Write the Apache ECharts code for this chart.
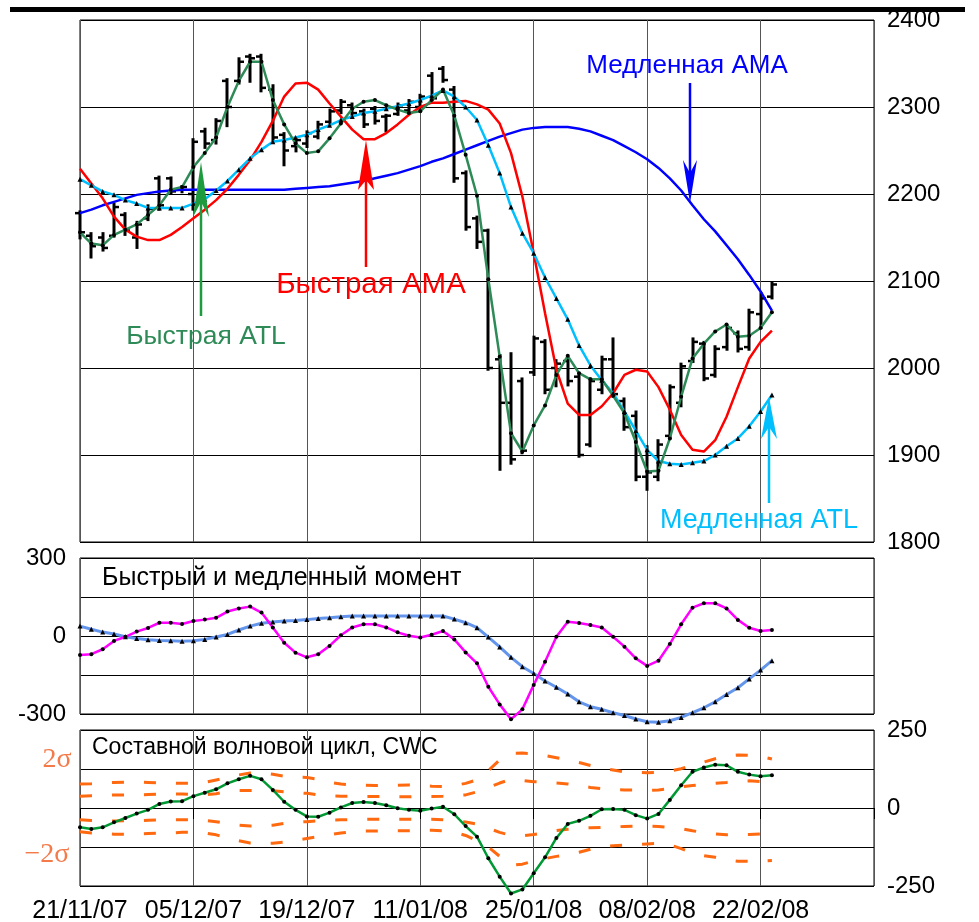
<!DOCTYPE html>
<html><head><meta charset="utf-8">
<script src="https://cdn.jsdelivr.net/npm/echarts@6/dist/echarts.min.js"></script>
<style>html,body{margin:0;padding:0;background:#fff}#c{width:979px;height:922px}</style>
</head><body><div id="c"></div>
<script>
const dateLabels = ['21/11/07','05/12/07','19/12/07','11/01/08','25/01/08','08/02/08','22/02/08'];

const barOpen = [2178,2152,2150,2152,2176,2150,2172,2218,2218,2205,2200,2272,2262,2330,2330,2358,2358,2320,2268,2255,2258,2266,2283,2296,2302,2295,2298,2289,2292,2296,2300,2336,2344,2320,2224,2172,2158,2010,1960,1985,1995,2030,2000,2008,1990,1912,1975,2010,1962,1945,1875,1875,1922,1960,2008,2028,1992,2024,2040,2024,2062,2082];
const barHigh = [2180,2155,2155,2189,2178,2168,2187,2220,2219,2209,2263,2275,2286,2332,2356,2360,2360,2325,2270,2264,2272,2283,2297,2308,2304,2297,2300,2291,2304,2308,2314,2339,2346,2323,2226,2174,2159,2015,2017,1988,2036,2032,2009,2011,1994,1988,2013,2034,1965,1950,1910,1917,1980,2005,2034,2030,2025,2049,2042,2067,2086,2098];
const barLow = [2149,2127,2135,2151,2153,2138,2170,2182,2200,2202,2182,2253,2258,2278,2327,2329,2318,2260,2233,2249,2254,2264,2281,2293,2291,2277,2281,2272,2291,2295,2295,2308,2329,2214,2159,2138,1998,1883,1890,1902,1992,1971,1979,1980,1898,1910,1971,1967,1929,1871,1860,1871,1919,1956,2007,1986,1990,2021,2019,2021,2046,2080];
const barClose = [2156,2140,2138,2185,2158,2165,2183,2187,2203,2208,2260,2258,2284,2300,2352,2356,2322,2265,2250,2262,2270,2280,2295,2306,2293,2280,2284,2290,2302,2306,2312,2310,2331,2218,2162,2145,2000,1960,1895,1905,2034,1975,2005,1985,1900,1985,2010,1970,1932,1875,1880,1912,1978,2002,2030,1988,2022,2046,2022,2064,2080,2096];

const fastATL = [2156,2143,2141,2153,2159,2165,2176,2187,2205,2208,2231,2247,2265,2300,2330,2352,2352,2308,2280,2258,2247,2249,2264,2281,2298,2306,2308,2302,2297,2293,2295,2308,2320,2290,2245,2198,2102,2013,1925,1904,1934,1957,1992,2014,1994,1987,1987,1968,1948,1915,1881,1882,1919,1967,2011,2028,2042,2050,2036,2037,2046,2064];
const slowATL = [2217,2210,2203,2199,2193,2189,2184,2184,2184,2184,2189,2194,2204,2215,2228,2241,2251,2260,2262,2265,2268,2274,2279,2285,2289,2293,2295,2298,2301,2304,2308,2313,2319,2312,2300,2285,2256,2224,2185,2155,2132,2104,2080,2056,2026,2003,1986,1971,1950,1928,1906,1893,1890,1889,1891,1893,1900,1910,1919,1933,1950,1969];
const fastAMA = [2229,2212,2195,2174,2159,2151,2147,2147,2153,2162,2172,2182,2193,2206,2222,2239,2260,2284,2312,2327,2328,2320,2304,2289,2274,2263,2263,2270,2280,2291,2300,2305,2305,2306,2307,2303,2297,2281,2247,2197,2132,2063,1998,1959,1946,1946,1956,1971,1992,1998,1996,1978,1952,1923,1906,1904,1917,1944,1978,2011,2030,2043];
const slowAMA = [2178,2182,2187,2191,2195,2199,2201,2203,2204,2205,2205,2205,2205,2205,2205,2205,2205,2205,2205,2206,2207,2208,2209,2211,2213,2215,2218,2221,2224,2228,2232,2237,2241,2246,2251,2256,2261,2266,2270,2274,2276,2277,2277,2277,2275,2272,2267,2262,2255,2248,2240,2230,2218,2204,2187,2171,2157,2141,2125,2107,2088,2066];

const fastMom = [-73,-70,-51,-19,-3,17,31,51,51,46,58,63,70,94,106,113,90,33,-26,-64,-82,-70,-38,3,33,45,45,33,14,1,-6,5,19,-13,-63,-105,-195,-263,-320,-282,-188,-99,-3,55,50,42,33,-3,-41,-86,-115,-95,-31,45,109,126,126,106,62,32,19,23];
const slowMom = [38,26,15,8,-3,-10,-14,-17,-18,-20,-18,-13,-4,6,23,38,49,54,58,60,63,67,70,74,77,77,77,77,77,77,77,77,77,65,51,32,-4,-42,-82,-118,-144,-173,-197,-223,-253,-272,-282,-295,-306,-319,-330,-332,-326,-313,-295,-276,-253,-225,-199,-165,-131,-95];

const cwc = [-62,-67,-62,-46,-32,-18,-6,13,21,22,38,49,60,79,92,103,92,58,20,-6,-27,-28,-15,2,16,19,16,9,-1,-6,-9,-2,4,-20,-58,-92,-161,-220,-274,-261,-209,-158,-96,-51,-41,-25,-4,-3,-6,-23,-34,-19,26,73,116,130,139,137,116,107,102,105];
const bandUpper2 = [77,78,80,82,83,83,82,81,80,79,79,82,90,98,106,112,113,108,102,99,98,92,82,77,74,73,72,73,73,74,72,70,69,72,79,90,120,154,175,176,174,168,161,154,146,136,128,122,116,114,113,114,118,126,138,147,158,166,170,169,165,157];
const bandUpper1 = [38,39,40,42,42,42,43,44,45,45,43,42,46,52,56,56,56,55,52,49,47,42,39,38,38,37,37,37,36,36,37,37,38,40,42,52,66,80,92,88,84,83,80,77,72,66,62,59,58,58,56,58,62,68,72,76,79,82,86,87,85,79];
const bandLower1 = [-38,-40,-42,-42,-41,-41,-39,-38,-38,-38,-38,-40,-44,-50,-55,-58,-57,-55,-49,-45,-44,-41,-39,-38,-37,-36,-36,-36,-36,-36,-36,-36,-38,-41,-45,-52,-65,-78,-88,-89,-85,-79,-72,-68,-65,-63,-62,-61,-59,-58,-58,-59,-62,-66,-73,-79,-83,-86,-86,-85,-83,-79];
const bandLower2 = [-76,-80,-82,-84,-84,-83,-82,-81,-80,-78,-78,-80,-86,-95,-105,-112,-114,-113,-109,-104,-98,-92,-86,-80,-76,-74,-74,-73,-73,-73,-72,-71,-73,-78,-88,-105,-125,-155,-183,-180,-170,-162,-155,-149,-142,-132,-124,-121,-119,-117,-115,-113,-118,-130,-145,-153,-158,-166,-171,-171,-170,-168];

const chart = echarts.init(document.getElementById('c'), null, {renderer:'canvas'});
const pairs = arr => arr.map((v,i)=>[i,v]);
const ohlc = barOpen.map((o,i)=>[i,o,barHigh[i],barLow[i],barClose[i]]);
const FONT = 'Liberation Sans, Arial, sans-serif';

function renderOHLC(params, api){
  const i = api.value(0);
  const pO = api.coord([i, api.value(1)]);
  const pH = api.coord([i, api.value(2)]);
  const pL = api.coord([i, api.value(3)]);
  const pC = api.coord([i, api.value(4)]);
  const x = Math.round(pO[0]);
  return {type:'group', children:[
    {type:'line', shape:{x1:x, y1:pH[1]-1, x2:x, y2:pL[1]+1}, style:{stroke:'#000', lineWidth:3}},
    {type:'line', shape:{x1:x-5, y1:pO[1], x2:x, y2:pO[1]}, style:{stroke:'#000', lineWidth:2.5}},
    {type:'line', shape:{x1:x, y1:pC[1], x2:x+5, y2:pC[1]}, style:{stroke:'#000', lineWidth:2.5}}
  ]};
}

const gridBase = {left:80, right:105, show:true, borderColor:'#000', borderWidth:1, containLabel:false, outerBoundsMode:'none'};
function xAx(k){
  return {type:'value', gridIndex:k, min:0, max:70, interval:10,
    axisLine:{show:false},
    axisTick:{show:k===2, length:11, lineStyle:{color:'#000'}},
    axisLabel:{show:k===2, fontSize:25, fontFamily:FONT, color:'#000', margin:13,
      formatter:v=>dateLabels[Math.round(v/10)]||''},
    splitLine:{show:true, lineStyle:{color:'#555', width:1}}};
}
function line(name, data, xi, color, width, symbol, size, extra){
  return Object.assign({type:'line', name, xAxisIndex:xi, yAxisIndex:xi, data:pairs(data),
    smooth:false, showSymbol:!!symbol, symbol:symbol||'none', symbolSize:size||0,
    lineStyle:{color, width}, itemStyle:{color:'#000'}, z:3, clip:false, silent:true}, extra||{});
}
const orange = '#ff6a10';
const dash = {type:[12,20]};
const plain = v => String(v);

const option = {
  animation:false,
  backgroundColor:'#fff',
  grid:[
    Object.assign({top:20, height:522}, gridBase),
    Object.assign({top:558, height:156}, gridBase),
    Object.assign({top:730, height:156}, gridBase)
  ],
  xAxis:[xAx(0), xAx(1), xAx(2)],
  yAxis:[
    {type:'value', gridIndex:0, position:'right', min:1800, max:2400, interval:100,
      axisLine:{show:false}, axisTick:{show:false},
      axisLabel:{fontSize:24, fontFamily:FONT, color:'#000', margin:13, formatter:plain},
      splitLine:{lineStyle:{color:'#000'}}},
    {type:'value', gridIndex:1, position:'left', min:-300, max:300, interval:150,
      axisLine:{show:false}, axisTick:{show:false},
      axisLabel:{fontSize:24, fontFamily:FONT, color:'#000', margin:14,
        formatter:v=>(Math.abs(v)===150?'':String(v))},
      splitLine:{lineStyle:{color:'#000'}}},
    {type:'value', gridIndex:2, position:'right', min:-250, max:250, interval:125,
      axisLine:{show:false}, axisTick:{show:false},
      axisLabel:{fontSize:24, fontFamily:FONT, color:'#000', margin:13,
        formatter:v=>(Math.abs(v)===125?'':String(v))},
      splitLine:{lineStyle:{color:'#000'}}}
  ],
  series:[
    {type:'custom', name:'OHLC', xAxisIndex:0, yAxisIndex:0, data:ohlc,
      encode:{x:0, y:[1,2,3,4]}, renderItem:renderOHLC, z:2, silent:true},
    line('Медленная АМА', slowAMA, 0, '#0000ff', 2.5),
    line('Быстрая АМА', fastAMA, 0, '#ff0000', 2.5),
    line('Медленная ATL', slowATL, 0, '#00bfff', 2.5, 'triangle', 5),
    line('Быстрая ATL', fastATL, 0, '#2e8b57', 2.5, 'circle', 4),
    line('Медленный момент', slowMom, 1, '#6495ed', 3, 'triangle', 5),
    line('Быстрый момент', fastMom, 1, '#ff00ff', 2.5, 'circle', 4),
    line('+2σ', bandUpper2, 2, orange, 3, null, 0, {lineStyle:Object.assign({color:orange, width:3}, dash)}),
    line('+1σ', bandUpper1, 2, orange, 3, null, 0, {lineStyle:Object.assign({color:orange, width:3}, dash)}),
    line('-1σ', bandLower1, 2, orange, 3, null, 0, {lineStyle:Object.assign({color:orange, width:3}, dash)}),
    line('-2σ', bandLower2, 2, orange, 3, null, 0, {lineStyle:Object.assign({color:orange, width:3}, dash)}),
    line('CWC', cwc, 2, '#009933', 2.5, 'circle', 4, {z:4})
  ]
};
chart.setOption(option);

function arrowUp(x, tipY, baseY, color, halfW, headLen, notch){
  return [
    {type:'line', shape:{x1:x, y1:baseY, x2:x, y2:tipY+notch}, style:{stroke:color, lineWidth:2.5}, z:10},
    {type:'polygon', shape:{points:[[x,tipY],[x-halfW,tipY+headLen],[x,tipY+notch],[x+halfW,tipY+headLen]]}, style:{fill:color}, z:10}
  ];
}
function arrowDown(x, tipY, baseY, color, halfW, headLen, notch){
  return [
    {type:'line', shape:{x1:x, y1:baseY, x2:x, y2:tipY-notch}, style:{stroke:color, lineWidth:2.5}, z:10},
    {type:'polygon', shape:{points:[[x,tipY],[x-halfW,tipY-headLen],[x,tipY-notch],[x+halfW,tipY-headLen]]}, style:{fill:color}, z:10}
  ];
}
function txt(s, x, y, color, size, family){
  return {type:'text', x, y, z:10, style:{text:s, fill:color, font:size+'px '+(family||FONT), textAlign:'center', textVerticalAlign:'middle'}};
}
chart.setOption({graphic:[
  {type:'rect', shape:{x:10, y:7, width:955, height:5}, style:{fill:'#000'}, z:10},
  txt('Медленная АМА', 687, 66, '#0000ff', 26),
  ...arrowDown(690, 203, 83, '#0000ff', 7, 43, 30),
  txt('Быстрая АМА', 371, 285, '#ff0000', 29.5),
  ...arrowUp(366, 140, 267, '#ff0000', 8, 50, 40),
  txt('Быстрая ATL', 206, 337, '#2e8b57', 26.5),
  ...arrowUp(201, 162, 316, '#1e9b3e', 8, 55, 40),
  txt('Медленная ATL', 759, 521, '#00bfff', 27),
  ...arrowUp(769, 397, 503, '#00bfff', 8, 42, 30),
  {type:'text', x:102, y:578, z:10, style:{text:'Быстрый и медленный момент', fill:'#000', font:'25px '+FONT, textAlign:'left', textVerticalAlign:'middle'}},
  {type:'text', x:92, y:748, z:10, style:{text:'Составной волновой цикл, CWC', fill:'#000', font:'23px '+FONT, textAlign:'left', textVerticalAlign:'middle'}},
  txt('2σ', 57, 760, '#f47a4a', 28, 'Liberation Serif, Times New Roman, serif'),
  txt('−2σ', 47, 855, '#f47a4a', 28, 'Liberation Serif, Times New Roman, serif')
]});
</script></body></html>
